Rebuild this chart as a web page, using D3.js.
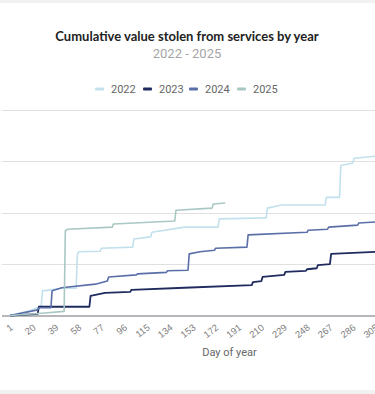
<!DOCTYPE html>
<html>
<head>
<meta charset="utf-8">
<script src="https://cdn.jsdelivr.net/npm/d3@7"></script>
<style>
  html, body { margin: 0; padding: 0; background: #fff; }
  svg { display: block; font-family: Roboto, "Open Sans", sans-serif; }
</style>
</head>
<body>
<div id="chart"></div>
<script>
// breakpoints: day of year, cumulative value
const days2022 = [1, 17, 27, 28, 45, 56, 57, 58, 76, 77, 103, 104, 118, 119, 146, 174, 175, 214, 215, 227, 263, 264, 275, 276, 286, 287, 305];
const vals2022 = [0, 9, 18, 48, 53, 53, 118, 124, 125, 131, 133, 149, 153, 162, 172, 172, 188, 190, 209, 215, 215, 230, 230, 292, 297, 306, 310];

const days2023 = [1, 24, 25, 67, 68, 80, 101, 102, 146, 202, 203, 210, 211, 229, 230, 247, 248, 256, 257, 267, 268, 305];
const vals2023 = [0, 3, 17, 17, 38, 44, 46, 50, 54, 59, 65, 67, 75, 79, 85, 87, 90, 92, 98, 100, 120, 124];

const days2024 = [1, 24, 25, 35, 36, 44, 72, 82, 83, 106, 107, 131, 132, 149, 150, 159, 171, 172, 198, 199, 248, 249, 265, 266, 290, 291, 305];
const vals2024 = [0, 11, 15, 15, 48, 54, 61, 67, 75, 79, 81, 84, 87, 88, 120, 124, 127, 131, 133, 157, 162, 166, 168, 172, 176, 180, 182];

const days2025 = [1, 30, 46, 47, 49, 86, 87, 138, 139, 169, 170, 180];
const vals2025 = [0, 5, 8, 165, 168, 172, 178, 184, 205, 209, 217, 219];

const years = ['2022', '2023', '2024', '2025'];
const colors = ['#c2e1ed', '#1f2b5e', '#5a6ea8', '#a9c8c4'];
const yTicks = [0, 100, 200, 300, 400];
const xTicks = d3.range(1, 366, 19);

const W = 375, H = 394;
const svg = d3.select('#chart').append('svg').attr('width', W).attr('height', H);

// frame bands
svg.append('rect').attr('x', 0).attr('y', 0).attr('width', W).attr('height', 3).attr('fill', '#f1f1f1');
svg.append('rect').attr('x', 0).attr('y', 390).attr('width', W).attr('height', 4).attr('fill', '#f1f1f1');

// title
svg.append('text').attr('x', 187).attr('y', 41).attr('text-anchor', 'middle')
  .style('font-family', 'Lato, sans-serif').style('font-weight', 700).style('font-size', '13px')
  .attr('fill', '#222').text('Cumulative value stolen from services by year');
svg.append('text').attr('x', 187).attr('y', 57.5).attr('text-anchor', 'middle')
  .style('font-size', '13px').attr('fill', '#a5a5a5').text('2022 - 2025');

// legend
const legendX = [95, 143, 189, 237];
const legend = svg.append('g');
years.forEach((yr, i) => {
  const lg = legend.append('g').attr('transform', `translate(${legendX[i]},89)`);
  lg.append('rect').attr('x', 0).attr('y', -1.5).attr('width', 9).attr('height', 3).attr('rx', 1).attr('fill', colors[i]);
  lg.append('text').attr('x', 16).attr('y', 0).attr('dy', '0.35em')
    .style('font-size', '11px').attr('fill', '#666').text(yr);
});

const x = d3.scaleLinear().domain([1, 366]).range([10, 449]);
const y = d3.scaleLinear().domain([0, 400]).range([315.5, 110]);

// grid
svg.append('g').selectAll('line')
  .data(yTicks.slice(1))
  .join('line')
  .attr('x1', 2).attr('x2', W)
  .attr('y1', d => Math.round(y(d)) + 0.5).attr('y2', d => Math.round(y(d)) + 0.5)
  .attr('stroke', '#e0e0e0').attr('stroke-width', 1);

// x axis
const xAxis = svg.append('g').attr('transform', 'translate(0,316)')
  .call(d3.axisBottom(x).tickValues(xTicks).tickSize(0).tickFormat(d3.format('d')));
xAxis.select('.domain').attr('d', `M2,0H${W}`).attr('stroke', '#6e7079').attr('stroke-width', 1.2);
xAxis.selectAll('text')
  .attr('x', 0).attr('y', 0).attr('dy', '0.35em')
  .attr('transform', 'translate(1,10) rotate(-38)')
  .style('text-anchor', 'end').style('font-size', '9.5px').attr('fill', '#808080');

svg.append('text').attr('x', x(183.5)).attr('y', 356).attr('text-anchor', 'middle')
  .style('font-size', '11px').attr('fill', '#666').text('Day of year');

// lines
const series = [
  { name: '2022', days: days2022, vals: vals2022 },
  { name: '2023', days: days2023, vals: vals2023 },
  { name: '2024', days: days2024, vals: vals2024 },
  { name: '2025', days: days2025, vals: vals2025 }
];
const line = d3.line().x(d => x(d[0])).y(d => y(d[1]));

svg.append('g').selectAll('path')
  .data(series)
  .join('path')
  .attr('d', s => line(s.days.map((d, i) => [d, s.vals[i]])))
  .attr('fill', 'none')
  .attr('stroke', (s, i) => colors[i])
  .attr('stroke-width', (s, i) => i === 1 ? 1.8 : 1.6)
  .attr('stroke-linejoin', 'round');
</script>
</body>
</html>
